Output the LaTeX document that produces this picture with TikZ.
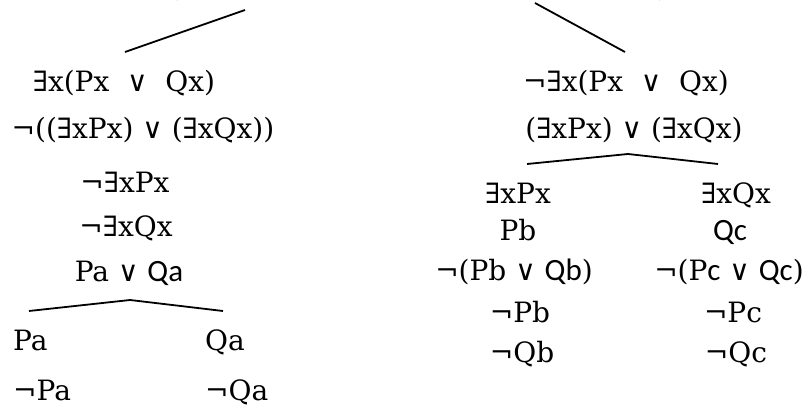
\documentclass[tikz,border=0pt]{standalone}
\usepackage{fontspec}
\setmainfont{DejaVu Serif}
\newfontfamily\sansf{Carlito}
\newcommand{\sanstxt}[1]{{\sansf\fontsize{31}{34}\selectfont #1}}
\begin{document}
\begin{tikzpicture}[x=1pt,y=-1pt,
  f/.style={inner sep=0pt, anchor=base, font=\fontsize{28}{32}\selectfont},
  fl/.style={f, anchor=base west},
  br/.style={line width=1.8pt}]
\useasboundingbox (0,0) rectangle (805,406);
\clip (0,0) rectangle (805,406);
% clipped top formula remnants
\node[f] (topl) at (174,-3) {(};
\node[f] (topr) at (663,-3) {)};
% connectors from the top
\coordinate (tl) at (245,10);
\coordinate (tr) at (535,3);
\coordinate (l0) at (125,52);
\coordinate (r0) at (625,52);
\draw[br] (tl) -- (l0);
\draw[br] (tr) -- (r0);
% left branch
\node[f] (l1) at (124,92) {∃x(Px \ ∨ \ Qx)};
\node[f] (l2) at (143,139) {¬((∃xPx) ∨ (∃xQx))};
\node[f] (l3) at (125,193) {¬∃xPx};
\node[f] (l4) at (126,236) {¬∃xQx};
\node[f] (l5) at (129,281) {Pa ∨ \sanstxt{Qa}};
\coordinate (lfa) at (130,300);
\coordinate (lfl) at (29,311);
\coordinate (lfr) at (223,311);
\draw[br] (lfl) -- (lfa) -- (lfr);
\node[fl] (l6a) at (13,350) {Pa};
\node[fl] (l6b) at (205,350) {Qa};
\node[fl] (l7a) at (13,400) {¬Pa};
\node[fl] (l7b) at (205,400) {¬Qa};
% right branch
\node[f] (r1) at (626,92) {¬∃x(Px \ ∨ \ Qx)};
\node[f] (r2) at (634,139) {(∃xPx) ∨ (∃xQx)};
\coordinate (rfa) at (628,154);
\coordinate (rfl) at (527,164);
\coordinate (rfr) at (718,164);
\draw[br] (rfl) -- (rfa) -- (rfr);
\node[f] (r3a) at (518,203) {∃xPx};
\node[f] (r3b) at (736,203) {∃xQx};
\node[f] (r4a) at (518,240) {Pb};
\node[f] (r4b) at (730,240) {\sanstxt{Qc}};
\node[f] (r5a) at (514,280) {¬(Pb ∨ \sanstxt{Qb})};
\node[f] (r5b) at (729,280) {¬(P\sanstxt{c} ∨ \sanstxt{Qc})};
\node[f] (r6a) at (520,322) {¬Pb};
\node[f] (r6b) at (733,322) {¬Pc};
\node[f] (r7a) at (522,362) {¬Qb};
\node[f] (r7b) at (736,362) {¬Qc};
\end{tikzpicture}
\end{document}
